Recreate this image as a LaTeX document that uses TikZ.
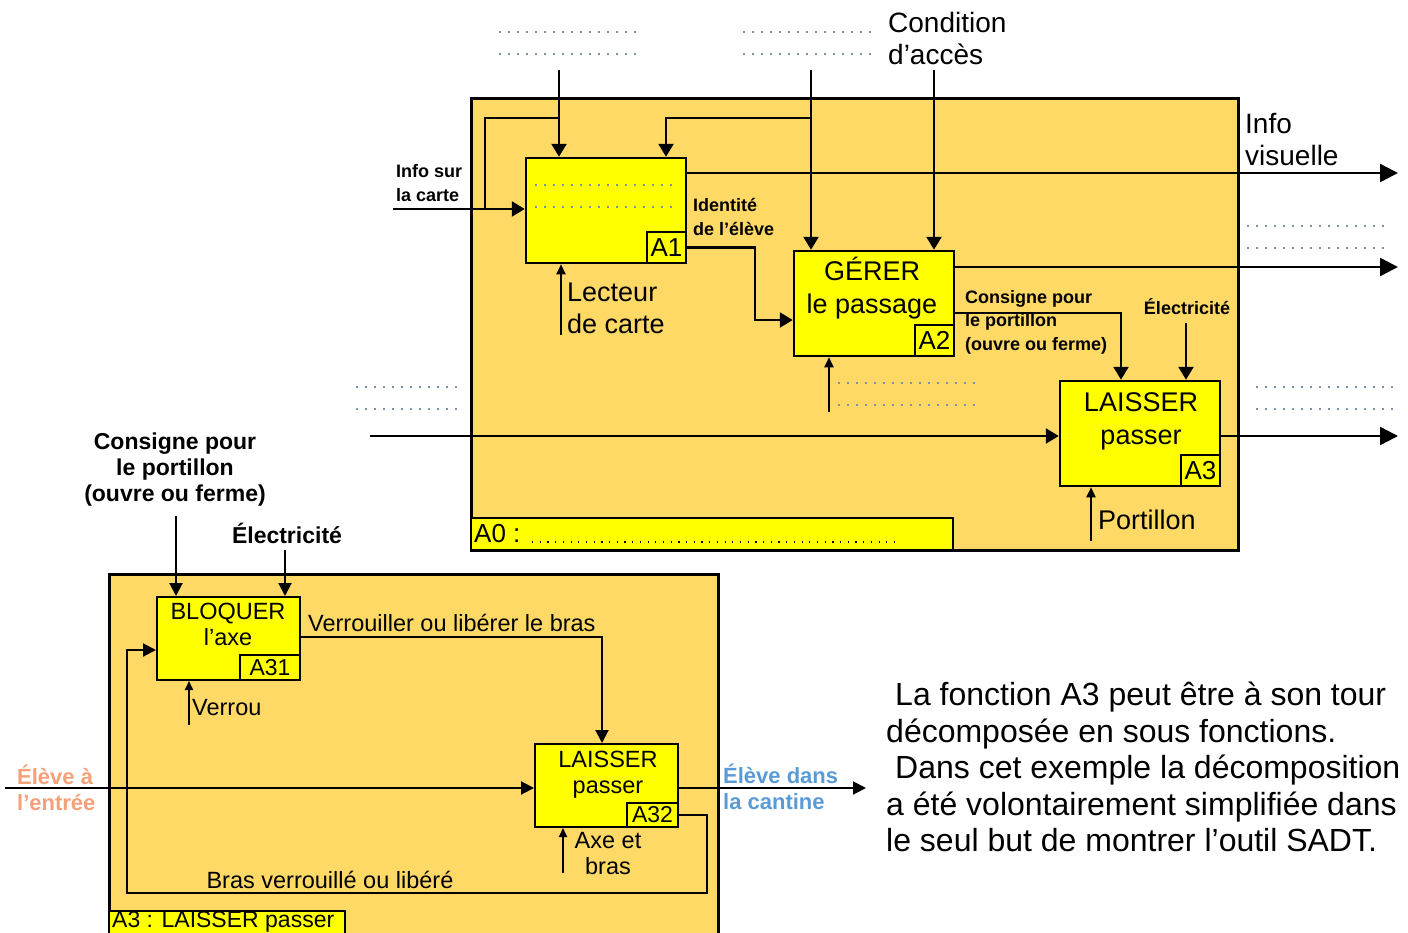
\documentclass[tikz,border=0pt]{standalone}
\usepackage{fontspec}
\setmainfont{Liberation Sans}
\usetikzlibrary{arrows.meta}
\definecolor{fondA}{RGB}{255,217,102}
\definecolor{jaune}{RGB}{255,255,0}
\definecolor{pointil}{RGB}{125,145,170}
\definecolor{orangeE}{RGB}{244,160,120}
\definecolor{bleuE}{RGB}{91,155,213}
\newcommand{\pointilles}[3]% x start, x end, y
{\draw[pointille] (#1,#3) -- (#2,#3) (#1,#3+22) -- (#2,#3+22);
}
\tikzset{
  cadre/.style={draw, line width=3pt, fill=fondA},
  bande/.style={draw, line width=2.5pt, fill=jaune},
  fct/.style={draw, line width=2.5pt, fill=jaune, inner sep=0pt, minimum width=160pt, minimum height=105pt},
  sfct/.style={fct, line width=2pt, minimum width=143pt, minimum height=83pt},
  tag/.style={draw, line width=2.5pt, fill=jaune, inner sep=0pt, minimum width=39pt, minimum height=31pt, font=\fontsize{26}{30}\selectfont},
  stag/.style={tag, line width=2pt, minimum height=25pt, font=\fontsize{23}{26}\selectfont},
  pointille/.style={pointil, line width=1.5pt, dash pattern=on 1.5pt off 7.5pt},
  link/.style={line width=2.5pt},
  flow/.style={line width=2.5pt, -{Triangle[length=13pt,width=15pt]}},
  outflow/.style={line width=2.5pt, -{Triangle[length=18pt,width=18pt]}},
  mech/.style={line width=2pt, -{Triangle[length=10pt,width=9pt]}},
  sflow/.style={line width=2pt, -{Triangle[length=13pt,width=13pt]}},
  smech/.style={line width=2pt, -{Triangle[length=9pt,width=8pt]}},
  titre/.style={align=center, inner sep=0pt, font=\fontsize{27}{33}\selectfont},
  stitre/.style={align=center, inner sep=0pt, font=\fontsize{23.5}{26}\selectfont},
  grand/.style={align=left, inner sep=0pt, font=\fontsize{28}{32}\selectfont},
  petitgras/.style={align=left, inner sep=0pt, font=\bfseries\fontsize{18}{23.5}\selectfont},
  gras/.style={align=center, inner sep=0pt, font=\bfseries\fontsize{23}{26}\selectfont}
}

\begin{document}
\begin{tikzpicture}[x=1pt, y=-1pt]
\useasboundingbox (0,0) rectangle (1408,932);
\clip (0,0) rectangle (1408,932);

\draw[cadre] (471,98) rectangle (1238,550);
\draw[bande] (471,518) rectangle (953,550);
\draw (474,534) node[anchor=west, inner sep=0pt, font=\fontsize{26}{30}\selectfont] (a0lbl) {A0 :};
\draw[black, line width=1.2pt, dash pattern=on 1.2pt off 6.5pt] (532,542) -- (900,542);

\draw[cadre] (109,574) rectangle (718,950);
\draw[bande] (109,911) rectangle (345,950);
\draw (112,922) node[anchor=west, inner sep=0pt, font=\fontsize{23}{26}\selectfont] (a3lbl) {A3 : LAISSER passer};

\pointilles{499}{636}{32}
\pointilles{743}{878}{32}
\pointilles{1247}{1385}{226}
\pointilles{838}{976}{383}
\pointilles{356}{463}{387}
\pointilles{1256}{1393}{387}

\node[fct] (a1) at (606,210.5) {};
\node[tag, anchor=south east] (a1tag) at (a1.south east) {A1};
\pointilles{535}{675}{185}

\node[fct] (a2) at (874,303.5) {};
\node[tag, anchor=south east] (a2tag) at (a2.south east) {A2};
\node[titre] (a2txt) at (872,288) {GÉRER\\le passage};

\node[fct] (a3) at (1140,433.5) {};
\node[tag, anchor=south east] (a3tag) at (a3.south east) {A3};
\node[titre] (a3txt) at (1141,421) {LAISSER\\passer};

\node[sfct] (a31) at (228.5,638.5) {};
\node[stag, minimum width=60pt, anchor=south east] (a31tag) at (a31.south east) {A31};
\node[stitre] (a31txt) at (228,624) {BLOQUER\\l’axe};

\node[sfct] (a32) at (606.5,785.5) {};
\node[stag, minimum width=51pt, minimum height=24pt, anchor=south east] (a32tag) at (a32.south east) {A32};
\node[stitre] (a32txt) at (608,775) {LAISSER\\passer};

\coordinate (ctrlA) at (559,70);
\coordinate (ctrlB) at (811,70);
\coordinate (ctrlC) at (934,70);
\coordinate (brA) at (485,118);
\coordinate (brB) at (666,118);
\coordinate (infoin) at (393,209);
\draw[flow] (ctrlA) -- (ctrlA |- a1.north);
\draw[flow] (ctrlB) -- (ctrlB |- a2.north);
\draw[flow] (ctrlC) -- (ctrlC |- a2.north);
\draw[flow] (infoin) -- (infoin -| a1.west);
\draw[link] (ctrlA |- brA) -| (brA |- infoin);
\draw[flow] (ctrlB |- brB) -| (brB |- a1.north);

\coordinate (outV) at (1398,173);
\coordinate (coudeA) at (755,320);
\coordinate (mecA1) at (561,335);
\coordinate (mecA2) at (829,412);
\coordinate (outB) at (1398,267);
\coordinate (consA) at (1121,313);
\coordinate (elecA) at (1186,323);
\coordinate (entA) at (370,436);
\coordinate (outC) at (1398,436);
\coordinate (mecA3) at (1091,541);
\draw[outflow] (outV -| a1.east) -- (outV);
\draw[flow] (a1tag.east) -| (coudeA) -- (coudeA -| a2.west);
\draw[mech] (mecA1) -- (mecA1 |- a1.south);
\draw[mech] (mecA2) -- (mecA2 |- a2.south);
\draw[outflow] (outB -| a2.east) -- (outB);
\draw[flow] (consA -| a2.east) -| (consA |- a3.north);
\draw[flow] (elecA) -- (elecA |- a3.north);
\draw[flow] (entA) -- (entA -| a3.west);
\draw[outflow] (outC -| a3.east) -- (outC);
\draw[mech] (mecA3) -- (mecA3 |- a3.south);

\coordinate (consB) at (176,516);
\coordinate (elecB) at (285,550);
\coordinate (verB) at (602,637);
\coordinate (mecB) at (189,725);
\coordinate (entB) at (5,788);
\coordinate (outD) at (866,788);
\coordinate (retA) at (707,893);
\coordinate (retB) at (127,650);
\coordinate (mecB2) at (563,873);
\draw[sflow] (consB) -- (consB |- a31.north);
\draw[sflow] (elecB) -- (elecB |- a31.north);
\draw[sflow] (verB -| a31.east) -| (verB |- a32.north);
\draw[smech] (mecB) -- (mecB |- a31.south);
\draw[sflow] (entB) -- (entB -| a32.west);
\draw[sflow] (outD -| a32.east) -- (outD);
\draw[sflow] (a32tag.east) -| (retA) -| (retB) -- (retB -| a31.west);
\draw[smech] (mecB2) -- (mecB2 |- a32.south);

\draw (888,38) node[grand, anchor=west] (cond) {Condition\\d’accès};
\draw (1245,140) node[grand, anchor=west] (infovis) {Info\\visuelle};
\draw (396,183) node[petitgras, anchor=west] (infocarte) {Info sur\\la carte};
\draw (693,217) node[petitgras, anchor=west] (ident) {Identité\\de l’élève};
\draw (567,308) node[grand, font=\fontsize{27}{32}\selectfont, anchor=west] (lecteur) {Lecteur\\de carte};
\draw (965,322) node[petitgras, anchor=west] (consA) {Consigne pour\\le portillon\\(ouvre ou ferme)};
\draw (1187,307) node[petitgras] (elecAtxt) {Électricité};
\draw (1098,520) node[grand, font=\fontsize{27}{32}\selectfont, anchor=west] (portil) {Portillon};

\draw (175,470) node[gras] (consBtxt) {Consigne pour\\le portillon\\(ouvre ou ferme)};
\draw (287,533) node[gras] (elecBtxt) {Électricité};
\draw (192,708) node[stitre, anchor=west] (verrou) {Verrou};
\draw (308,623) node[stitre, anchor=west] (verlbl) {Verrouiller ou libérer le bras};
\draw (17,788) node[gras, align=left, font=\bfseries\fontsize{22}{26}\selectfont, text=orangeE, anchor=west] (entree) {Élève à\\l’entrée};
\draw (723,787) node[gras, align=left, font=\bfseries\fontsize{22}{26}\selectfont, text=bleuE, anchor=west] (cantine) {Élève dans\\la cantine};
\draw (608,854) node[stitre] (axe) {Axe et\\bras};
\draw (330,880) node[stitre] (bras) {Bras verrouillé ou libéré};

\draw (886,767) node[align=left, inner sep=0pt, font=\fontsize{32}{36.5}\selectfont, anchor=west] (texte) {\hspace{9pt}La fonction A3 peut être à son tour\\décomposée en sous fonctions.\\\hspace{9pt}Dans cet exemple la décomposition\\a été volontairement simplifiée dans\\le seul but de montrer l’outil SADT.};
\end{tikzpicture}
\end{document}
